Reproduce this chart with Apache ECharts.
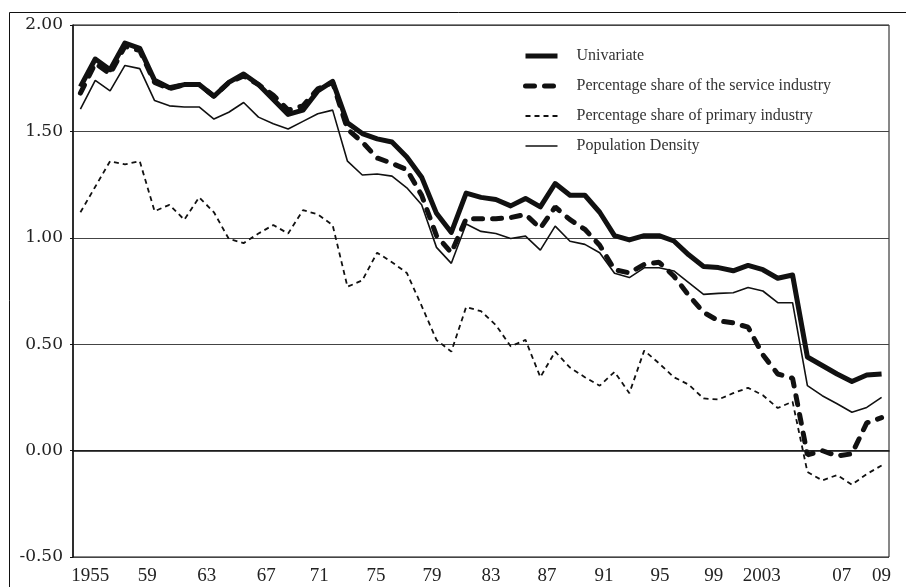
<!DOCTYPE html>
<html>
<head>
<meta charset="utf-8">
<style>
  html, body { margin: 0; padding: 0; background: #fff; }
  #chart { width: 906px; height: 587px; }
</style>
<script src="https://cdn.jsdelivr.net/npm/echarts@6/dist/echarts.min.js"></script>
</head>
<body>
<div id="chart"></div>
<script>
// years on the category axis
const years = []
for (let y = 1955; y <= 2009; y++) years.push(String(y))

const univariate = [
  1.71, 1.84, 1.79, 1.915, 1.89, 1.74, 1.705, 1.72, 1.72, 1.665,
  1.73, 1.77, 1.72, 1.65, 1.58, 1.60, 1.69, 1.735, 1.54, 1.49,
  1.465, 1.45, 1.38, 1.285, 1.115, 1.025, 1.21, 1.19, 1.18, 1.15,
  1.185, 1.145, 1.255, 1.20, 1.20, 1.12, 1.01, 0.99, 1.01, 1.01,
  0.985, 0.92, 0.865, 0.86, 0.845, 0.87, 0.85, 0.81, 0.825, 0.44,
  0.40, 0.36, 0.325, 0.355, 0.36,
]
const serviceShare = [
  1.68, 1.82, 1.77, 1.90, 1.88, 1.73, 1.70, 1.72, 1.72, 1.665,
  1.73, 1.76, 1.72, 1.67, 1.60, 1.62, 1.70, 1.73, 1.51, 1.45,
  1.375, 1.35, 1.32, 1.20, 1.01, 0.93, 1.09, 1.09, 1.09, 1.095,
  1.11, 1.045, 1.145, 1.085, 1.04, 0.965, 0.85, 0.835, 0.875, 0.885,
  0.82, 0.73, 0.65, 0.61, 0.60, 0.58, 0.45, 0.36, 0.34, -0.02,
  0.00, -0.025, -0.015, 0.13, 0.155,
]
const primaryShare = [
  1.12, 1.24, 1.36, 1.345, 1.36, 1.125, 1.155, 1.085, 1.19, 1.12,
  0.995, 0.975, 1.02, 1.06, 1.02, 1.13, 1.11, 1.06, 0.77, 0.80,
  0.93, 0.885, 0.835, 0.68, 0.52, 0.465, 0.675, 0.655, 0.59, 0.49,
  0.52, 0.345, 0.465, 0.39, 0.345, 0.305, 0.37, 0.27, 0.47, 0.41,
  0.345, 0.31, 0.245, 0.24, 0.27, 0.295, 0.26, 0.20, 0.23, -0.10,
  -0.14, -0.115, -0.16, -0.11, -0.07,
]
const popDensity = [
  1.605, 1.74, 1.69, 1.81, 1.795, 1.645, 1.62, 1.615, 1.615, 1.558,
  1.59, 1.636, 1.567, 1.536, 1.511, 1.547, 1.583, 1.60, 1.36, 1.295,
  1.30, 1.29, 1.235, 1.155, 0.955, 0.88, 1.065, 1.03, 1.02, 0.997,
  1.008, 0.942, 1.055, 0.984, 0.969, 0.93, 0.833, 0.813, 0.859, 0.859,
  0.844, 0.789, 0.734, 0.739, 0.742, 0.766, 0.75, 0.695, 0.695, 0.305,
  0.258, 0.22, 0.18, 0.203, 0.25,
]

// x tick labels and where they sit (in year units, as in the source figure)
const xLabelText = ['1955', '59', '63', '67', '71', '75', '79', '83', '87', '91', '95', '99', '2003', '07', '09']
const xLabelPos = [1955.67, 1959.51, 1963.52, 1967.53, 1971.09, 1974.93, 1978.7, 1982.68, 1986.45, 1990.29, 1994.06, 1997.69, 2000.93, 2006.31, 2009.0]

const names = [
  'Univariate',
  'Percentage share of the service industry',
  'Percentage share of primary industry',
  'Population Density',
]

const INK = '#111'
const SERIF = '"Liberation Serif", "Times New Roman", serif'

// line looks, shared by series and legend
const styles = [
  { color: INK, width: 5, join: 'round' },
  { color: INK, width: 5, type: [9, 10], cap: 'round' },
  { color: INK, width: 1.8, type: [5, 4] },
  { color: INK, width: 1.6 },
]

const chart = echarts.init(document.getElementById('chart'), null, { renderer: 'canvas' })

chart.setOption({
  animation: false,
  backgroundColor: '#fff',
  grid: {
    left: 73, right: 17, top: 25, bottom: 30,
    show: true, borderColor: INK, borderWidth: 1,
  },
  legend: {
    orient: 'vertical',
    left: 518, top: 43,
    itemWidth: 32, itemHeight: 14, itemGap: 14,
    data: names.map((n, i) => ({ name: n, lineStyle: styles[i] })),
    itemStyle: { opacity: 0 },   // line only, no marker
    textStyle: {
      fontFamily: SERIF, fontSize: 16, lineHeight: 14, color: '#333',
      padding: [0, 0, 0, 14],
    },
  },
  xAxis: [
    {
      type: 'category',
      data: years,
      boundaryGap: true,
      axisLine: { lineStyle: { color: INK, width: 1.5 } },
      axisTick: { interval: 0, length: 4, lineStyle: { color: INK } },
      axisLabel: { show: false },
      splitLine: { show: false },
    },
    {
      // label-only axis, same span as the category bands
      type: 'value',
      position: 'bottom',
      min: 1954.5, max: 2009.5,
      axisLine: { show: false },
      axisTick: { show: false },
      splitLine: { show: false },
      axisLabel: {
        customValues: xLabelPos,
        margin: 10,
        fontFamily: SERIF, fontSize: 19, color: '#222',
        formatter: v => xLabelText[xLabelPos.indexOf(v)] || '',
      },
    },
  ],
  yAxis: {
    type: 'value',
    min: -0.5, max: 2, interval: 0.5,
    axisLine: { show: true, lineStyle: { color: INK, width: 1.5 } },
    axisTick: { show: true, length: 3, lineStyle: { color: INK } },
    axisLabel: {
      margin: 10,
      fontFamily: '"DejaVu Serif", serif', fontSize: 17, color: '#222',
      formatter: v => v.toFixed(2),
    },
    splitLine: { lineStyle: { color: '#444', width: 1 } },
  },
  series: [
    {
      name: names[3], type: 'line', data: popDensity, symbol: 'none', z: 2,
      lineStyle: styles[3], itemStyle: { color: INK },
    },
    {
      name: names[2], type: 'line', data: primaryShare, symbol: 'none', z: 2,
      lineStyle: styles[2], itemStyle: { color: INK },
    },
    {
      name: names[1], type: 'line', data: serviceShare, symbol: 'none', z: 3,
      lineStyle: styles[1], itemStyle: { color: INK },
    },
    {
      name: names[0], type: 'line', data: univariate, symbol: 'none', z: 4,
      lineStyle: styles[0], itemStyle: { color: INK },
    },
  ],
  graphic: [
    {
      // outer frame of the figure
      type: 'rect', silent: true,
      shape: { x: 9.5, y: 12.5, width: 1200, height: 1200 },
      style: { fill: null, stroke: INK, lineWidth: 1 },
    },
  ],
})
</script>
</body>
</html>
